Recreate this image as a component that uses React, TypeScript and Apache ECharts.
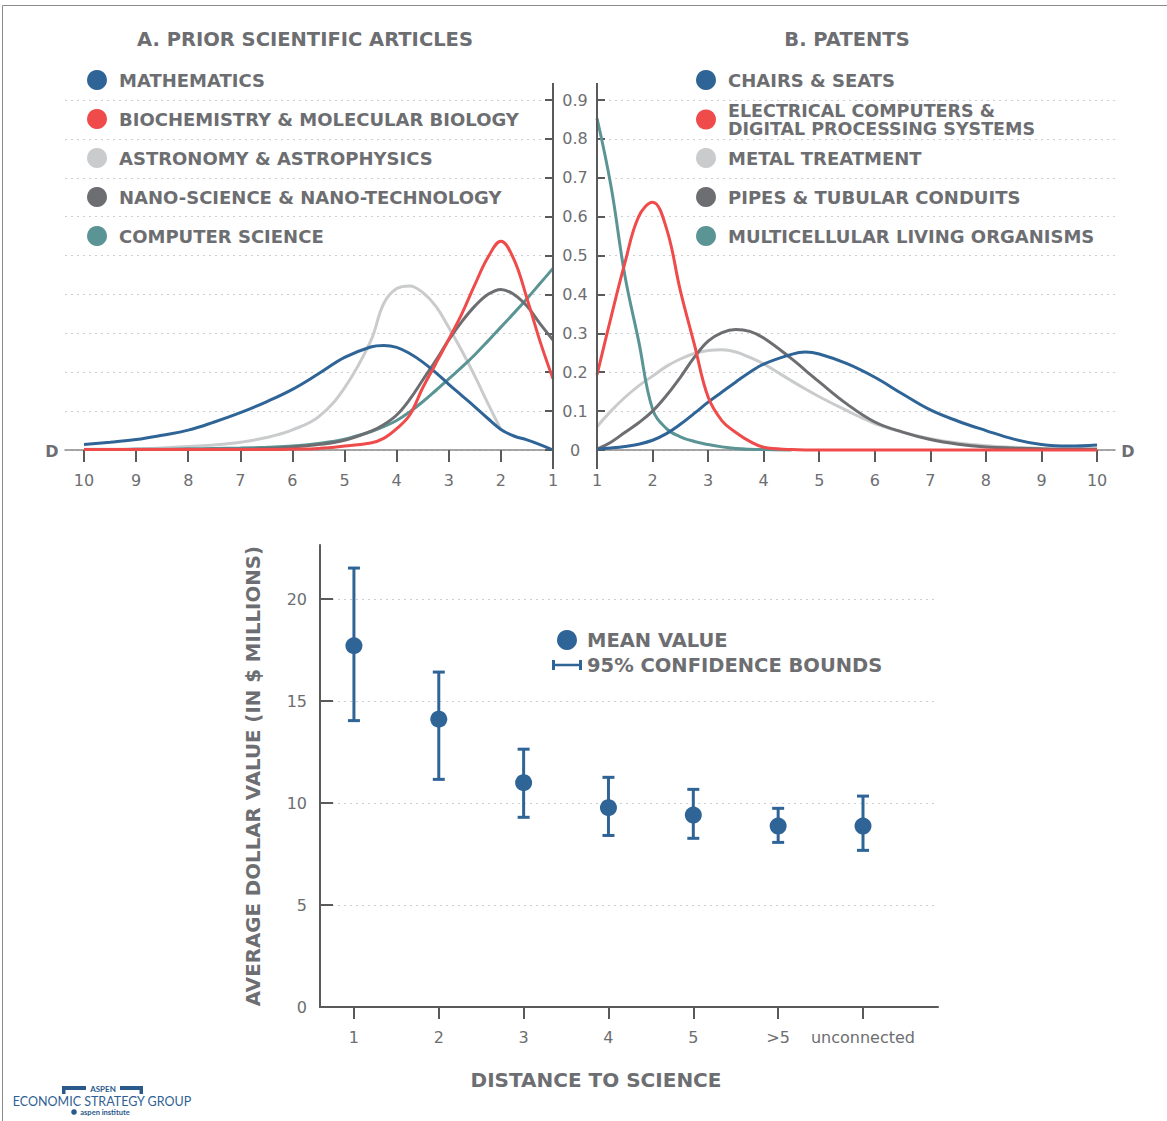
import React, { useEffect, useRef } from 'react';
import * as echarts from 'echarts';

// ---------- DATA ----------
const titleA = 'A. PRIOR SCIENTIFIC ARTICLES';
const titleB = 'B. PATENTS';

const distA = [10, 9.5, 9, 8.5, 8, 7.5, 7, 6.5, 6, 5.5, 5, 4.5, 4.25, 4, 3.75, 3.5, 3.25, 3, 2.75, 2.5, 2.25, 2, 1.75, 1.5, 1.25, 1];
const mathematics = [0.014, 0.02, 0.027, 0.038, 0.051, 0.072, 0.096, 0.124, 0.156, 0.196, 0.238, 0.265, 0.269, 0.264, 0.248, 0.226, 0.199, 0.169, 0.14, 0.111, 0.081, 0.053, 0.036, 0.026, 0.014, 0];
const biochemistry = [0.001, 0.001, 0.001, 0.001, 0.001, 0.001, 0.001, 0.001, 0.002, 0.004, 0.01, 0.018, 0.03, 0.055, 0.09, 0.16, 0.222, 0.285, 0.35, 0.425, 0.495, 0.537, 0.49, 0.39, 0.28, 0.183];
const astronomy = [0.002, 0.002, 0.003, 0.005, 0.009, 0.013, 0.02, 0.032, 0.052, 0.085, 0.16, 0.28, 0.376, 0.415, 0.422, 0.405, 0.37, 0.315, 0.255, 0.19, 0.12, 0.052, null, null, null, null];
const nanoScience = [0.001, 0.001, 0.001, 0.001, 0.001, 0.002, 0.002, 0.004, 0.008, 0.014, 0.025, 0.048, 0.065, 0.09, 0.13, 0.18, 0.23, 0.283, 0.33, 0.37, 0.4, 0.413, 0.4, 0.37, 0.325, 0.283];
const computerScience = [0.001, 0.001, 0.002, 0.002, 0.003, 0.004, 0.005, 0.007, 0.01, 0.017, 0.028, 0.047, 0.06, 0.076, 0.098, 0.124, 0.153, 0.183, 0.213, 0.245, 0.28, 0.316, 0.352, 0.389, 0.428, 0.467];

const distB = [1, 1.25, 1.5, 1.75, 2, 2.25, 2.5, 2.75, 3, 3.25, 3.5, 3.75, 4, 4.5, 4.75, 5, 5.5, 6, 6.5, 7, 7.5, 8, 8.5, 9, 9.5, 10];
const chairs = [0.002, 0.005, 0.009, 0.015, 0.025, 0.042, 0.066, 0.094, 0.123, 0.149, 0.175, 0.2, 0.221, 0.246, 0.252, 0.247, 0.222, 0.187, 0.144, 0.103, 0.074, 0.05, 0.028, 0.014, 0.01, 0.013];
const electrical = [0.193, 0.34, 0.48, 0.6, 0.637, 0.57, 0.41, 0.273, 0.136, 0.075, 0.045, 0.022, 0.007, 0.001, 0, 0, 0, 0, 0, 0, 0, 0, 0, 0, 0, 0];
const metal = [0.06, 0.1, 0.135, 0.165, 0.19, 0.215, 0.234, 0.248, 0.256, 0.258, 0.252, 0.238, 0.221, 0.178, 0.157, 0.137, 0.101, 0.068, 0.046, 0.029, 0.018, 0.011, 0.007, 0.004, 0.003, 0.003];
const pipes = [0.002, 0.02, 0.045, 0.07, 0.1, 0.14, 0.187, 0.238, 0.28, 0.302, 0.31, 0.305, 0.288, 0.235, 0.205, 0.175, 0.118, 0.072, 0.046, 0.027, 0.015, 0.008, 0.005, 0.003, 0.002, 0.002];
const multicellular = [0.853, 0.68, 0.45, 0.28, 0.105, 0.055, 0.034, 0.022, 0.014, 0.008, 0.004, 0.002, 0.001, 0, null, null, null, null, null, null, null, null, null, null, null, null];

const distTicks = [1, 2, 3, 4, 5, 6, 7, 8, 9, 10];

const namesA = ['MATHEMATICS', 'BIOCHEMISTRY & MOLECULAR BIOLOGY', 'ASTRONOMY & ASTROPHYSICS', 'NANO-SCIENCE & NANO-TECHNOLOGY', 'COMPUTER SCIENCE'];
const namesB = ['CHAIRS & SEATS', 'ELECTRICAL COMPUTERS & DIGITAL PROCESSING SYSTEMS', 'METAL TREATMENT', 'PIPES & TUBULAR CONDUITS', 'MULTICELLULAR LIVING ORGANISMS'];

const categories = ['1', '2', '3', '4', '5', '>5', 'unconnected'];
const meanValue = [17.71, 14.11, 11.0, 9.77, 9.41, 8.87, 8.87];
const upperBound = [21.52, 16.42, 12.64, 11.26, 10.67, 9.74, 10.34];
const lowerBound = [14.04, 11.16, 9.3, 8.41, 8.27, 8.07, 7.68];
const valueTicks = [0, 5, 10, 15, 20];

// ---------- STYLE ----------
const BLUE = '#2f6497';
const RED = '#ee4b4a';
const LIGHT = '#c9cbcc';
const DARK = '#6d6e71';
const TEAL = '#5b9494';
const TEXT = '#6d6e71';
const AXIS = '#5a5a5a';
const HEAD = '"DejaVu Sans", Lato, sans-serif';
const NUM = '"DejaVu Sans", Lato, sans-serif';
const LOGO = 'Lato, "Noto Sans", sans-serif';
const colorsA = [BLUE, RED, LIGHT, DARK, TEAL];
const colorsB = [BLUE, RED, LIGHT, DARK, TEAL];

function pairs(xs: number[], ys: (number | null)[]) {
  const out: number[][] = [];
  xs.forEach((x, i) => {
    const y = ys[i];
    if (y !== null && y !== undefined) out.push([x, y]);
  });
  return out;
}

function lineSeries(name: string, xs: number[], ys: (number | null)[], color: string, axis: number, z: number) {
  return {
    type: 'line',
    name,
    xAxisIndex: axis,
    yAxisIndex: axis,
    data: pairs(xs, ys),
    smooth: 0.4,
    symbol: 'none',
    showSymbol: false,
    clip: false,
    z,
    itemStyle: { color },
    lineStyle: { color, width: 3 },
  };
}

export default function App() {
  const ref = useRef<HTMLDivElement>(null);

  useEffect(() => {
    if (!ref.current) return;
    const chart = echarts.init(ref.current, null, { renderer: 'svg' });

    const legendText = { color: TEXT, fontSize: 18, fontWeight: 'bold', fontFamily: HEAD, lineHeight: 20 };
    const tickLabel = { color: TEXT, fontSize: 16, fontFamily: NUM };
    const dotted = { show: true, lineStyle: { color: '#cfcfcf', type: [2, 4], width: 1 } };

    const dataA = [mathematics, biochemistry, astronomy, nanoScience, computerScience];
    const dataB = [chairs, electrical, metal, pipes, multicellular];
    const zA = [4, 6, 1, 3, 2];
    const zB = [4, 6, 1, 3, 2];

    const series: any[] = [];
    namesA.forEach((n, i) => series.push(lineSeries(n, distA, dataA[i], colorsA[i], 0, zA[i])));
    namesB.forEach((n, i) => series.push(lineSeries(n, distB, dataB[i], colorsB[i], 1, zB[i])));

    series.push({
      type: 'custom',
      name: '95% CONFIDENCE BOUNDS',
      xAxisIndex: 2,
      yAxisIndex: 2,
      itemStyle: { color: BLUE },
      encode: { x: 0, y: [1, 2] },
      data: categories.map((c, i) => [i + 1, lowerBound[i], upperBound[i]]),
      z: 2,
      renderItem: (params: any, api: any) => {
        const x = api.value(0);
        const top = api.coord([x, api.value(2)]);
        const bot = api.coord([x, api.value(1)]);
        const cap = 6;
        const style = { stroke: BLUE, lineWidth: 3, fill: 'none' };
        return {
          type: 'group',
          children: [
            { type: 'line', shape: { x1: top[0], y1: top[1], x2: bot[0], y2: bot[1] }, style },
            { type: 'line', shape: { x1: top[0] - cap, y1: top[1], x2: top[0] + cap, y2: top[1] }, style },
            { type: 'line', shape: { x1: bot[0] - cap, y1: bot[1], x2: bot[0] + cap, y2: bot[1] }, style },
          ],
        };
      },
    });
    series.push({
      type: 'scatter',
      name: 'MEAN VALUE',
      xAxisIndex: 2,
      yAxisIndex: 2,
      symbol: 'circle',
      symbolSize: 17,
      itemStyle: { color: BLUE, opacity: 1 },
      data: meanValue.map((v, i) => [i + 1, v]),
      z: 5,
    });

    const errIcon = 'path://M15,0h0.01v0.01h-0.01zM15,19.99h0.01v0.01h-0.01zM0,5h3v3.75h24v-3.75h3v10h-3v-3.75h-24v3.75h-3z';
    const centered = { align: 'center', verticalAlign: 'middle', textAlign: 'center', textVerticalAlign: 'middle' };

    const option: any = {
      animation: false,
      backgroundColor: '#ffffff',
      textStyle: { fontFamily: HEAD },
      grid: [
        { left: 65, top: 100, width: 488, height: 350 },
        { left: 597, top: 100, width: 518, height: 350 },
        { left: 320, top: 545, width: 618, height: 462 },
      ],
      xAxis: [
        {
          type: 'value', gridIndex: 0, min: 1, max: 10.365, inverse: true,
          axisLine: { show: true, lineStyle: { color: '#8a8a8a', width: 1.5 } },
          axisTick: { show: true, inside: false, length: 12, customValues: distTicks, lineStyle: { color: AXIS, width: 2 } },
          axisLabel: { show: true, margin: 22, customValues: distTicks, ...tickLabel },
          splitLine: { show: false },
        },
        {
          type: 'value', gridIndex: 1, min: 1, max: 10.323,
          axisLine: { show: true, lineStyle: { color: '#8a8a8a', width: 1.5 } },
          axisTick: { show: true, inside: false, length: 12, customValues: distTicks, lineStyle: { color: AXIS, width: 2 } },
          axisLabel: { show: true, margin: 22, customValues: distTicks, ...tickLabel },
          splitLine: { show: false },
        },
        {
          type: 'value', gridIndex: 2, min: 0.6, max: 7.884,
          axisLine: { show: true, lineStyle: { color: AXIS, width: 2 } },
          axisTick: { show: true, inside: false, length: 12, customValues: [1, 2, 3, 4, 5, 6, 7], lineStyle: { color: AXIS, width: 2 } },
          axisLabel: {
            show: true, margin: 22, customValues: [1, 2, 3, 4, 5, 6, 7], ...tickLabel,
            formatter: (v: number) => categories[Math.round(v) - 1] ?? '',
          },
          splitLine: { show: false },
        },
      ],
      yAxis: [
        {
          type: 'value', gridIndex: 0, min: 0, max: 0.9, interval: 0.1, position: 'right',
          axisLine: { show: false },
          axisTick: { show: true, inside: true, length: 8, lineStyle: { color: AXIS, width: 2 } },
          axisLabel: { show: false },
          splitLine: dotted,
        },
        {
          type: 'value', gridIndex: 1, min: 0, max: 0.9, interval: 0.1, position: 'left',
          axisLine: { show: false },
          axisTick: { show: true, inside: true, length: 8, lineStyle: { color: AXIS, width: 2 } },
          axisLabel: { show: true, margin: 22, align: 'center', ...tickLabel, formatter: (v: number) => (v === 0 ? '0' : v.toFixed(1)) },
          splitLine: dotted,
        },
        {
          type: 'value', gridIndex: 2, min: 0, max: 22.65, interval: 5,
          name: 'AVERAGE DOLLAR VALUE (IN $ MILLIONS)',
          nameLocation: 'middle', nameGap: 57,
          nameTextStyle: { color: TEXT, fontSize: 19.8, fontWeight: 'bold', fontFamily: HEAD },
          axisLine: { show: true, lineStyle: { color: AXIS, width: 2 } },
          axisTick: { show: true, inside: true, length: 13, customValues: valueTicks, lineStyle: { color: AXIS, width: 2 } },
          axisLabel: { show: true, margin: 13, customValues: valueTicks, ...tickLabel },
          splitLine: dotted,
        },
      ],
      legend: [
        {
          data: namesA, orient: 'vertical', left: 87, top: 70, padding: 0, itemGap: 19,
          itemWidth: 34, itemHeight: 20, icon: 'circle', selectedMode: false, textStyle: legendText,
        },
        {
          data: [namesB[0]], orient: 'vertical', left: 696, top: 70, padding: 0,
          itemWidth: 34, itemHeight: 20, icon: 'circle', selectedMode: false, textStyle: legendText,
        },
        {
          data: [namesB[1]], orient: 'vertical', left: 696, top: 101.5, padding: 0,
          itemWidth: 34, itemHeight: 20, icon: 'circle', selectedMode: false,
          textStyle: { ...legendText, fontSize: 17.5, lineHeight: 18 },
          formatter: (n: string) => n.replace('& ', '&\n'),
        },
        {
          data: namesB.slice(2), orient: 'vertical', left: 696, top: 148, padding: 0, itemGap: 19,
          itemWidth: 34, itemHeight: 20, icon: 'circle', selectedMode: false, textStyle: legendText,
        },
        {
          data: [{ name: 'MEAN VALUE', icon: 'circle' }, { name: '95% CONFIDENCE BOUNDS', icon: errIcon }],
          orient: 'vertical', left: 552, top: 630, padding: 0, itemGap: 5,
          itemWidth: 30, itemHeight: 20, selectedMode: false, textStyle: { ...legendText, fontSize: 19.5 },
        },
      ],
      graphic: [
        { type: 'rect', shape: { x: 2.5, y: 5.5, width: 1400, height: 1400 }, style: { fill: 'none', stroke: '#8a8a8a', lineWidth: 1 }, silent: true, z: 0 },
        { type: 'line', shape: { x1: 553, y1: 83, x2: 553, y2: 469 }, style: { stroke: AXIS, lineWidth: 2 }, z: 10 },
        { type: 'line', shape: { x1: 597, y1: 83, x2: 597, y2: 469 }, style: { stroke: AXIS, lineWidth: 2 }, z: 10 },
        { type: 'text', x: 305, y: 39, style: { text: titleA, fill: TEXT, font: `bold 19.5px ${HEAD}`, ...centered } },
        { type: 'text', x: 847, y: 39, style: { text: titleB, fill: TEXT, font: `bold 19.5px ${HEAD}`, ...centered } },
        { type: 'text', x: 52, y: 451, style: { text: 'D', fill: TEXT, font: `bold 16px ${HEAD}`, ...centered } },
        { type: 'text', x: 1128, y: 451, style: { text: 'D', fill: TEXT, font: `bold 16px ${HEAD}`, ...centered } },
        { type: 'text', x: 596, y: 1080, style: { text: 'DISTANCE TO SCIENCE', fill: TEXT, font: `bold 20px ${HEAD}`, ...centered } },
        // logo
        { type: 'polygon', shape: { points: [[62, 1086], [86, 1086], [86, 1090], [65.5, 1090], [65.5, 1094], [62, 1094]] }, style: { fill: '#2a5a8c' } },
        { type: 'polygon', shape: { points: [[120, 1086], [143, 1086], [143, 1094], [139.5, 1094], [139.5, 1090], [120, 1090]] }, style: { fill: '#2a5a8c' } },
        { type: 'text', x: 103, y: 1089, style: { text: 'ASPEN', fill: '#2a5a8c', font: `bold 8px ${LOGO}`, ...centered } },
        { type: 'text', x: 102, y: 1101, style: { text: 'ECONOMIC STRATEGY GROUP', fill: '#2f5f93', font: `12.5px ${LOGO}`, ...centered } },
        { type: 'circle', shape: { cx: 74, cy: 1112, r: 2.8 }, style: { fill: '#2a5a8c' } },
        { type: 'text', x: 105, y: 1112, style: { text: 'aspen institute', fill: '#2a5a8c', font: `bold 7.5px ${LOGO}`, ...centered } },
      ],
      series,
    };

    chart.setOption(option);
    return () => chart.dispose();
  }, []);

  return (
    <div
      ref={ref}
      style={{ position: 'absolute', left: 0, top: 0, width: 1167, height: 1121, background: '#fff' }}
    />
  );
}
